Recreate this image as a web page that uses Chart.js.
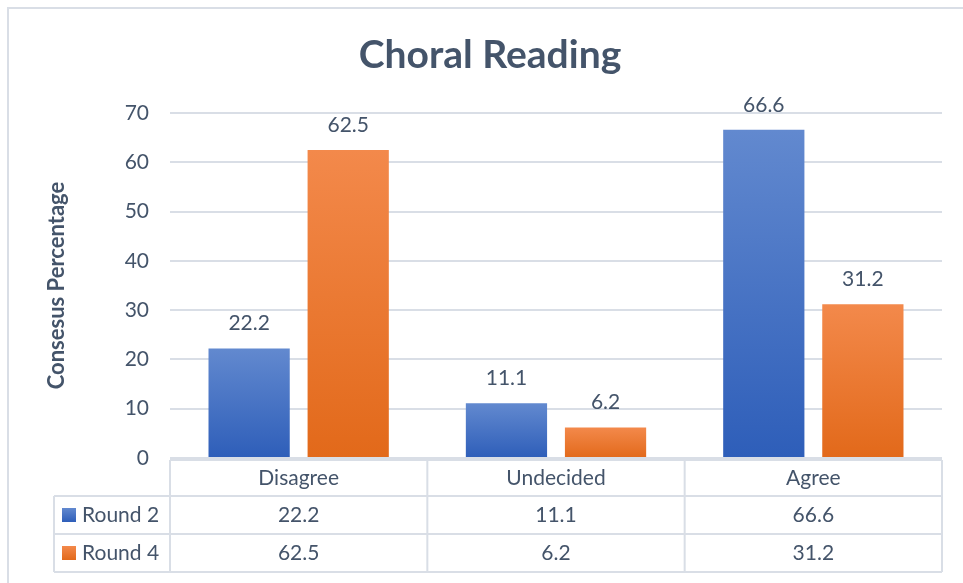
<!DOCTYPE html>
<html>
<head>
<meta charset="utf-8">
<script src="https://cdn.jsdelivr.net/npm/chart.js@4.4.1/dist/chart.umd.min.js"></script>
<style>
  html, body { margin: 0; padding: 0; background: #fff; }
  #wrap { width: 963px; height: 583px; position: relative; }
</style>
</head>
<body>
<div id="wrap"><canvas id="chart" width="963" height="583"></canvas></div>
<script>
// Data
const categories = ['Disagree', 'Undecided', 'Agree'];
const seriesNames = ['Round 2', 'Round 4'];
const round2 = [22.2, 11.1, 66.6];
const round4 = [62.5, 6.2, 31.2];
const yTicks = [0, 10, 20, 30, 40, 50, 60, 70];

const TEXT = '#44546A';
const GRID = '#D9DEE6';
const FONT = 'Lato, "Open Sans", sans-serif';

// top / bottom colours of the bar gradients
const gradColors = [
    ['#6289CF', '#2E5EB9'],
    ['#F3894B', '#E2691A']
];

function barGradient(context) {
    const chart = context.chart;
    const y = chart.scales.y;
    if (!y || context.raw === undefined) return gradColors[context.datasetIndex][1];
    const top = y.getPixelForValue(context.raw);
    const base = y.getPixelForValue(0);
    if (!isFinite(top) || !isFinite(base) || top === base) return gradColors[context.datasetIndex][1];
    const g = chart.ctx.createLinearGradient(0, top, 0, base);
    g.addColorStop(0, gradColors[context.datasetIndex][0]);
    g.addColorStop(1, gradColors[context.datasetIndex][1]);
    return g;
}

/**
 * Frame, value labels and the data table under the plot
 */
const tablePlugin = {
    id: 'dataTable',
    afterDraw(chart) {
        const { ctx, chartArea } = chart;
        const x = chart.scales.x;
        const n = categories.length;
        const colW = (x.right - x.left) / n;
        const legendLeft = 54;
        const headTop = chartArea.bottom + 2;
        const rowTops = [headTop, headTop + 36, headTop + 74, headTop + 112];

        ctx.save();

        // outer frame (top and left edges)
        ctx.strokeStyle = '#D9DEE6';
        ctx.lineWidth = 2;
        ctx.beginPath();
        ctx.moveTo(8, 583);
        ctx.lineTo(8, 8);
        ctx.lineTo(963, 8);
        ctx.stroke();

        // value labels above bars
        ctx.fillStyle = TEXT;
        ctx.font = '21px ' + FONT;
        ctx.textAlign = 'center';
        ctx.textBaseline = 'middle';
        chart.data.datasets.forEach((ds, di) => {
            chart.getDatasetMeta(di).data.forEach((bar, i) => {
                ctx.fillText(ds.data[i].toFixed(1), bar.x, bar.y - 25);
            });
        });

        // table grid
        ctx.strokeStyle = GRID;
        ctx.lineWidth = 2;
        ctx.beginPath();
        // header row
        ctx.moveTo(x.left, rowTops[0]);
        ctx.lineTo(x.right, rowTops[0]);
        for (let r = 1; r < rowTops.length; r++) {
            ctx.moveTo(legendLeft, rowTops[r]);
            ctx.lineTo(x.right, rowTops[r]);
        }
        for (let c = 0; c <= n; c++) {
            const cx = x.left + c * colW;
            ctx.moveTo(cx, rowTops[0]);
            ctx.lineTo(cx, rowTops[3]);
        }
        ctx.moveTo(legendLeft, rowTops[1]);
        ctx.lineTo(legendLeft, rowTops[3]);
        ctx.stroke();

        // header text
        ctx.fillStyle = TEXT;
        ctx.font = '21px ' + FONT;
        categories.forEach((cat, i) => {
            ctx.fillText(cat, x.getPixelForValue(i), (rowTops[0] + rowTops[1]) / 2);
        });

        // series rows
        chart.data.datasets.forEach((ds, di) => {
            const cy = (rowTops[di + 1] + rowTops[di + 2]) / 2;
            const g = ctx.createLinearGradient(0, cy - 7, 0, cy + 7);
            g.addColorStop(0, gradColors[di][0]);
            g.addColorStop(1, gradColors[di][1]);
            ctx.fillStyle = g;
            ctx.fillRect(62, cy - 7, 14, 14);
            ctx.fillStyle = TEXT;
            ctx.textAlign = 'left';
            ctx.fillText(ds.label, 82, cy);
            ctx.textAlign = 'center';
            ds.data.forEach((v, i) => {
                ctx.fillText(v.toFixed(1), x.getPixelForValue(i), cy);
            });
        });

        ctx.restore();
    }
};

const ctx = document.getElementById('chart').getContext('2d');

new Chart(ctx, {
    type: 'bar',
    data: {
        labels: categories,
        datasets: [
            { label: seriesNames[0], data: round2, backgroundColor: barGradient },
            { label: seriesNames[1], data: round4, backgroundColor: barGradient }
        ]
    },
    options: {
        responsive: false,
        animation: false,
        devicePixelRatio: 1,
        categoryPercentage: 0.77,
        barPercentage: 0.82,
        layout: { padding: { top: 113, right: 21, bottom: 125, left: 0 } },
        plugins: {
            legend: { display: false },
            tooltip: { enabled: false },
            title: { display: false }
        },
        scales: {
            x: { display: false },
            y: {
                min: 0,
                max: 70,
                afterBuildTicks: (scale) => { scale.ticks = yTicks.map(v => ({ value: v })); },
                afterFit: (scale) => { scale.width = 170; },
                border: { display: false },
                grid: { color: GRID, lineWidth: 2, drawTicks: false },
                ticks: { color: TEXT, padding: 21, font: { family: FONT, size: 21 } },
                title: {
                    display: true,
                    text: 'Consesus Percentage',
                    color: TEXT,
                    padding: { top: 44, bottom: 0 },
                    font: { family: FONT, size: 22, weight: 'bold' }
                }
            }
        }
    },
    plugins: [tablePlugin, {
        id: 'bigTitle',
        afterDraw(chart) {
            const c = chart.ctx;
            c.save();
            c.fillStyle = TEXT;
            c.font = 'bold 39px ' + FONT;
            c.textAlign = 'center';
            c.textBaseline = 'middle';
            c.fillText('Choral Reading', 490, 55);
            c.restore();
        }
    }]
});
</script>
</body>
</html>
